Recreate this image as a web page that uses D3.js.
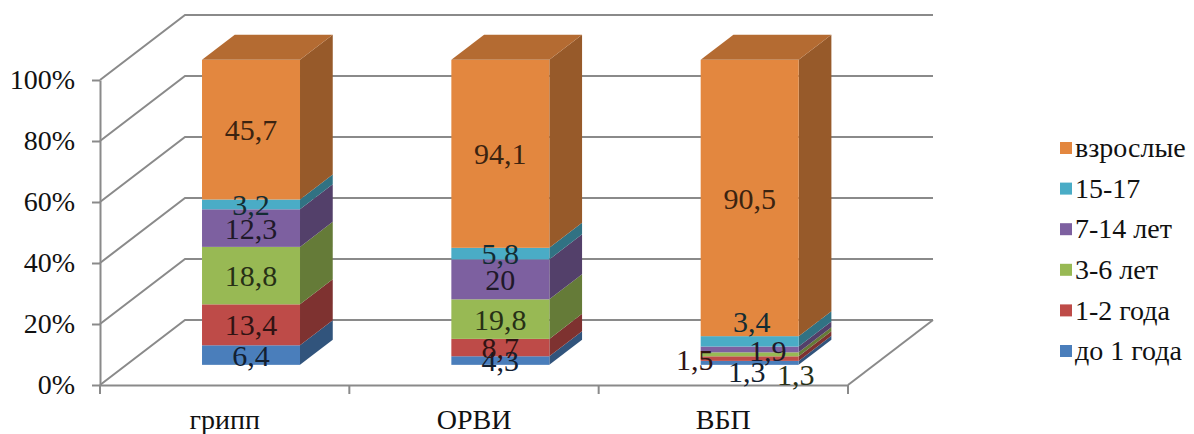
<!DOCTYPE html>
<html><head><meta charset="utf-8">
<script src="https://cdn.jsdelivr.net/npm/d3@7"></script>
<style>
body{margin:0;background:#fff;}
svg{display:block;}
</style>
</head><body>
<svg id="chart" width="1194" height="434"></svg>
<script>
// ---- data ----
const categories = ["грипп", "ОРВИ", "ВБП"];
const seriesNames = ["до 1 года", "1-2 года", "3-6 лет", "7-14 лет", "15-17", "взрослые"];
const seriesColors = ["#4A7EBB", "#BE4B48", "#98B954", "#7D60A0", "#4AACC6", "#E3873F"];
const grippValues = [6.4, 13.4, 18.8, 12.3, 3.2, 45.7];
const orviValues = [4.3, 8.7, 19.8, 20, 5.8, 94.1];
const vbpValues = [1.3, 1.5, 1.3, 1.9, 3.4, 90.5];
const yTickValues = [0, 0.2, 0.4, 0.6, 0.8, 1];
const yTickLabels = ["0%", "20%", "40%", "60%", "80%", "100%"];
// label nudges (pixels) for crowded labels, like the original layout
const labelNudge = {"ВБП|0": [-3, 9], "ВБП|1": [-55, 1], "ВБП|2": [46, 20], "ВБП|3": [18, 1], "ВБП|4": [2, -20]};

const valuesByCat = [grippValues, orviValues, vbpValues];
const rows = categories.map((c, i) => {
  const r = {cat: c};
  seriesNames.forEach((s, j) => r[s] = valuesByCat[i][j]);
  return r;
});
const stacked = d3.stack().keys(seriesNames).offset(d3.stackOffsetExpand)(rows);

// ---- layout ----
const FONT = '"Times New Roman", serif';
const svg = d3.select("#chart");
const x = d3.scaleBand().domain(categories).range([100, 848]);
const y = d3.scaleLinear().domain([0, 1]).range([385, 80]);
const D = {dx: 85, dy: -65};          // depth vector of the plot box
const bFront = 0.31, bBack = 0.695;    // bar depth position
const barRatio = 0.393;
const gridColor = "#8a8a8a";
const color = d3.scaleOrdinal().domain(seriesNames).range(seriesColors);

// walls / gridlines
const g = svg.append("g");
yTickValues.forEach(t => {
  g.append("polyline")
    .attr("points", [[x.range()[0], y(t)], [x.range()[0] + D.dx, y(t) + D.dy], [x.range()[1] + D.dx, y(t) + D.dy]].map(p => p.join(",")).join(" "))
    .attr("fill", "none").attr("stroke", gridColor).attr("stroke-width", 2);
});
// floor right edge
g.append("line")
  .attr("x1", x.range()[1]).attr("y1", y(0))
  .attr("x2", x.range()[1] + D.dx).attr("y2", y(0) + D.dy)
  .attr("stroke", gridColor).attr("stroke-width", 2);

// left axis
const yAxis = d3.axisLeft(y).tickValues(yTickValues).tickFormat((d, i) => yTickLabels[i])
  .tickSize(8).tickSizeOuter(0).tickPadding(17);
const ya = svg.append("g").attr("transform", `translate(${x.range()[0]},0)`).call(yAxis)
  .attr("font-family", FONT);
ya.select(".domain").attr("stroke", gridColor).attr("stroke-width", 2);
ya.selectAll(".tick line").attr("stroke", gridColor).attr("stroke-width", 2);
ya.selectAll(".tick text").attr("font-size", 28).attr("fill", "#111").style("font-family", FONT);

// bottom axis
const xAxis = d3.axisBottom(x).tickSize(0).tickPadding(24);
const xa = svg.append("g").attr("transform", `translate(0,${y(0)})`).call(xAxis)
  .attr("font-family", FONT);
xa.select(".domain").attr("stroke", gridColor).attr("stroke-width", 2);
xa.selectAll(".tick text").attr("font-size", 28).attr("fill", "#111").style("font-family", FONT);
const boundaries = categories.map(c => x(c)).concat([x.range()[1]]);
svg.append("g").selectAll("line").data(boundaries).join("line")
  .attr("x1", d => d).attr("x2", d => d).attr("y1", y(0)).attr("y2", y(0) + 9)
  .attr("stroke", gridColor).attr("stroke-width", 2);

// bars
const bw = x.bandwidth() * barRatio;
const fx = D.dx * bFront, fy = D.dy * bFront;
const bdx = D.dx * (bBack - bFront), bdy = D.dy * (bBack - bFront);
const barsG = svg.append("g");
const poly = pts => pts.map(p => p.join(",")).join(" ");

stacked.forEach((layer, si) => {
  const c = color(layer.key);
  layer.forEach((seg, ci) => {
    const cat = categories[ci];
    const xl = x(cat) + (x.bandwidth() - bw) / 2 + fx;
    const xr = xl + bw;
    const yb = y(seg[0]) + fy, yt = y(seg[1]) + fy;
    barsG.append("polygon")
      .attr("points", poly([[xr, yb], [xr, yt], [xr + bdx, yt + bdy], [xr + bdx, yb + bdy]]))
      .attr("fill", d3.color(c).darker(1.15));
    barsG.append("rect").attr("x", xl).attr("y", yt).attr("width", bw).attr("height", yb - yt)
      .attr("fill", c);
    if (si === stacked.length - 1) {
      barsG.append("polygon")
        .attr("points", poly([[xl, yt], [xr, yt], [xr + bdx, yt + bdy], [xl + bdx, yt + bdy]]))
        .attr("fill", d3.color(c).darker(0.65));
    }
  });
});

// data labels
const lg = svg.append("g");
stacked.forEach((layer, si) => {
  const c = color(layer.key);
  layer.forEach((seg, ci) => {
    const cat = categories[ci];
    const val = valuesByCat[ci][si];
    const nudge = labelNudge[cat + "|" + si] || [0, 0];
    const cx = x(cat) + x.bandwidth() / 2 + fx + nudge[0];
    const cy = y((seg[0] + seg[1]) / 2) + fy + nudge[1];
    lg.append("text").attr("x", cx).attr("y", cy).attr("dy", "0.35em")
      .attr("text-anchor", "middle").attr("font-size", 30)
      .style("font-family", FONT)
      .attr("fill", d3.color(c).darker(3.8))
      .text(String(val).replace(".", ","));
  });
});

// legend
const leg = svg.append("g");
const legendOrder = seriesNames.slice().reverse();
const legY = d3.scalePoint().domain(legendOrder).range([148, 351]);
legendOrder.forEach(s => {
  leg.append("rect").attr("x", 1060).attr("y", legY(s) - 6).attr("width", 12).attr("height", 12)
    .attr("fill", color(s));
  leg.append("text").attr("x", 1075).attr("y", legY(s)).attr("dy", "0.33em")
    .attr("font-size", 28).attr("fill", "#111").style("font-family", FONT).text(s);
});
</script>
</body></html>
